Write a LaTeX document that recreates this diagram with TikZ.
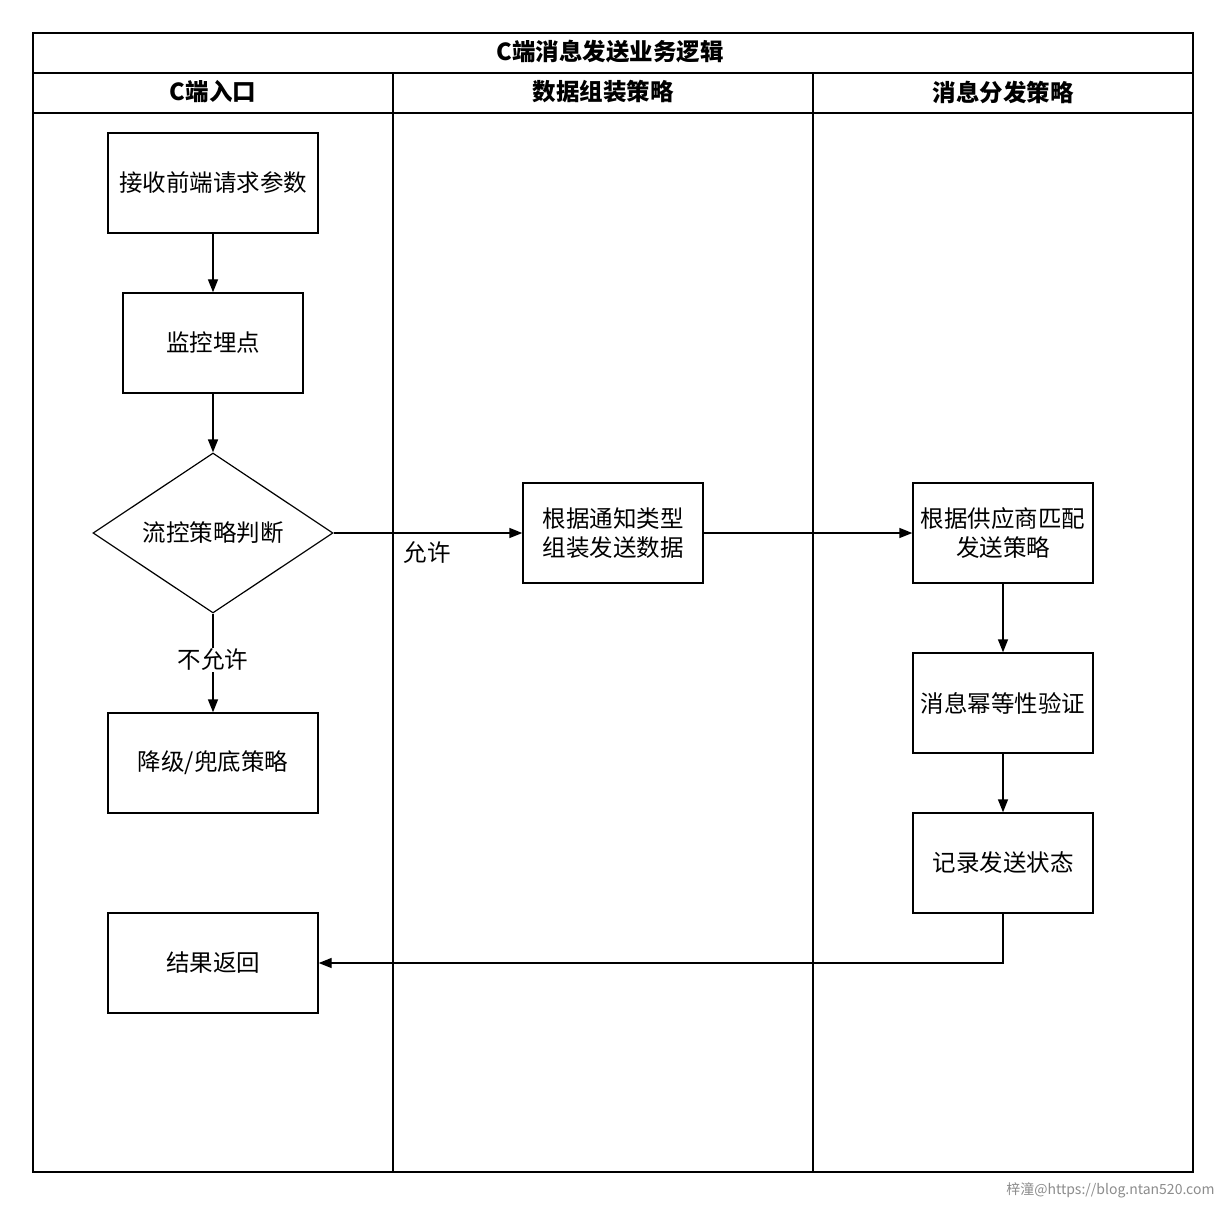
\documentclass[tikz,border=0pt]{standalone}
\usepackage{fontspec}
\setmainfont{Noto Sans CJK SC}
\usetikzlibrary{shapes.geometric,arrows.meta}
\begin{document}
\begin{tikzpicture}[x=1pt,y=-1pt,
  frame/.style={draw=black,line width=1.5pt},
  proc/.style={draw=black,line width=1.4pt,rectangle,minimum width=210pt,minimum height=100pt,inner sep=0pt,font=\fontsize{23.5}{29}\selectfont,align=center},
  procs/.style={proc,minimum width=180pt},
  dec/.style={draw=black,line width=1.2pt,diamond,minimum width=240pt,minimum height=160pt,aspect=1.5,inner sep=0pt,font=\fontsize{23.5}{29}\selectfont},
  hdr/.style={font=\bfseries\fontsize{23.5}{29}\selectfont},
  lbl/.style={font=\fontsize{23.5}{29}\selectfont,fill=white,inner sep=1pt},
  arr/.style={line width=1.4pt,-{Triangle[length=13pt,width=10pt]}},
  wm/.style={font=\fontsize{14}{16}\selectfont,text=black!45}
]
\useasboundingbox (0,0) rectangle (1226,1206);
\fill[white] (0,0) rectangle (1226,1206);
% frame and lanes
\draw[frame] (33,33) rectangle (1193,1172);
\draw[frame] (33,73) -- (1193,73);
\draw[frame] (33,113) -- (1193,113);
\draw[frame] (393,73) -- (393,1172);
\draw[frame] (813,73) -- (813,1172);
\node[hdr] (title) at (610,52) {C端消息发送业务逻辑};
\node[hdr] (h1) at (213,92) {C端入口};
\node[hdr] (h2) at (603,92) {数据组装策略};
\node[hdr] (h3) at (1003,92) {消息分发策略};
% nodes
\node[proc] (recv) at (213,183) {接收前端请求参数};
\node[procs] (mon) at (213,343) {监控埋点};
\node[dec] (flow) at (213,533) {流控策略判断};
\node[proc] (deg) at (213,763) {降级/兜底策略};
\node[proc] (ret) at (213,963) {结果返回};
\node[procs] (asm) at (613,533) {根据通知类型\\组装发送数据};
\node[procs] (match) at (1003,533) {根据供应商匹配\\发送策略};
\node[procs] (idem) at (1003,703) {消息幂等性验证};
\node[procs] (rec) at (1003,863) {记录发送状态};
\coordinate (turn) at (1003,963);
% edges
\draw[arr] (recv) -- (mon);
\draw[arr] (mon) -- (flow);
\draw[arr] (flow) -- node[lbl,pos=0.47] (na) {不允许} (deg);
\draw[arr] (flow) -- (asm);
\node[font=\fontsize{23.5}{29}\selectfont] (ok) at (427,553) {允许};
\draw[arr] (asm) -- (match);
\draw[arr] (match) -- (idem);
\draw[arr] (idem) -- (rec);
\draw[arr] (rec.south) -- (turn) -- (ret.east);
\node[wm,anchor=east] (wmark) at (1218,1190) {梓潼@https://blog.ntan520.com};
\end{tikzpicture}
\end{document}
